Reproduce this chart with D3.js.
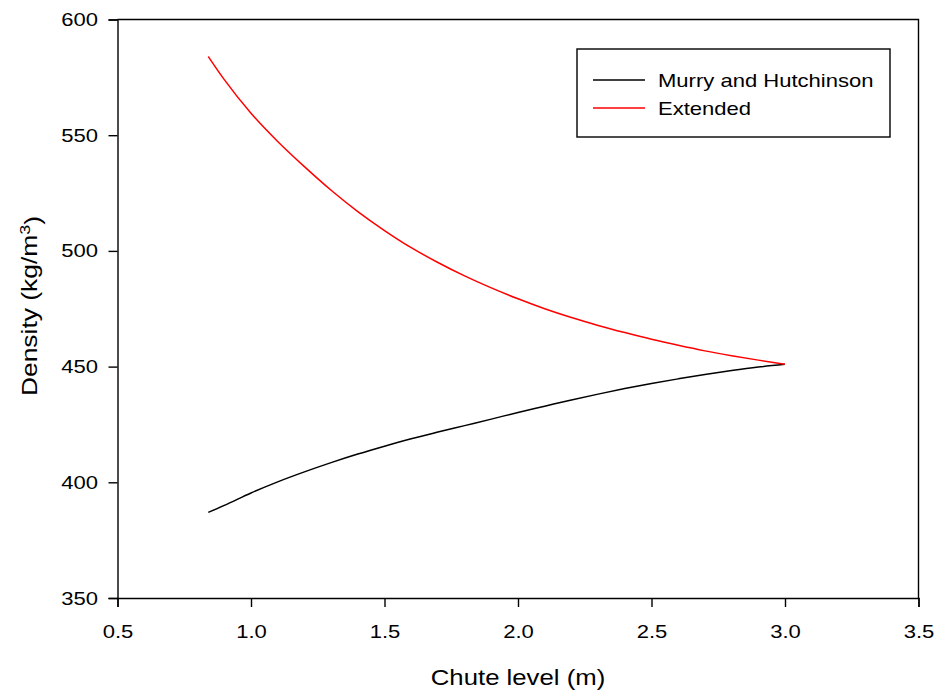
<!DOCTYPE html>
<html>
<head>
<meta charset="utf-8">
<script src="https://cdn.jsdelivr.net/npm/d3@7"></script>
<style>
body { margin: 0; background: #fff; }
text { font-family: "Liberation Sans", Arial, sans-serif; fill: #000; }
.axis path, .axis line { stroke: #000; stroke-width: 1.4; }
.axis text { font-size: 19px; }
</style>
</head>
<body>
<div id="chart"></div>
<script>
// chute level (m)
var chuteLevel = [0.84, 0.9, 1.0, 1.1, 1.2, 1.3, 1.4, 1.5, 1.6, 1.7, 1.8, 1.9,
	2.0, 2.1, 2.2, 2.3, 2.4, 2.5, 2.6, 2.7, 2.8, 2.9, 3.0];
// density (kg/m3)
var murryHutchinson = [387, 390, 395.4, 400.2, 404.5, 408.5, 412.2, 415.6, 418.8, 421.7, 424.5, 427.3,
	430.2, 432.9, 435.6, 438.1, 440.5, 442.7, 444.7, 446.6, 448.3, 449.8, 451];
var extended = [584, 574, 559.5, 547.3, 536.4, 526.2, 517, 508.8, 501.4, 495, 489.2, 484,
	479.3, 475, 471.2, 467.8, 464.7, 461.8, 459.2, 456.8, 454.7, 452.8, 451];
var xTicks = [0.5, 1.0, 1.5, 2.0, 2.5, 3.0, 3.5];
var yTicks = [350, 400, 450, 500, 550, 600];
var seriesNames = ["Murry and Hutchinson", "Extended"];
var seriesColors = ["#000000", "#ff0000"];

var stretch = 1.16; // the original font is drawn a bit wide

var margin = {top: 19.5, right: 17.5, bottom: 95, left: 117.5},
	width = 936 - margin.left - margin.right,
	height = 693 - margin.top - margin.bottom;

var x = d3.scaleLinear().domain([0.5, 3.5]).range([0, width]);
var y = d3.scaleLinear().domain([350, 600]).range([height, 0]);

var svg = d3.select("#chart").append("svg")
	.attr("width", 936)
	.attr("height", 693);

var g = svg.append("g")
	.attr("transform", "translate(" + margin.left + "," + margin.top + ")");

// frame top + right
g.append("path")
	.attr("d", "M0,0H" + width + "V" + height)
	.attr("fill", "none")
	.attr("stroke", "#000")
	.attr("stroke-width", 1.4);

g.append("g").attr("class", "axis")
	.attr("transform", "translate(0," + height + ")")
	.call(d3.axisBottom(x).tickValues(xTicks).tickFormat(d3.format(".1f"))
		.tickSizeOuter(0).tickSize(9).tickPadding(18))
	.selectAll("text").attr("transform", "scale(" + stretch + ",1)");

g.append("g").attr("class", "axis")
	.call(d3.axisLeft(y).tickValues(yTicks).tickSizeOuter(0).tickSize(9).tickPadding(7.8))
	.selectAll("text").attr("transform", "scale(" + stretch + ",1)");

var line = d3.line()
	.curve(d3.curveMonotoneX)
	.x(function(d) { return x(d[0]); })
	.y(function(d) { return y(d[1]); });

[murryHutchinson, extended].forEach(function(vals, i) {
	g.append("path")
		.datum(chuteLevel.map(function(c, j) { return [c, vals[j]]; }))
		.attr("d", line)
		.attr("fill", "none")
		.attr("stroke", seriesColors[i])
		.attr("stroke-width", 1.5);
});

// legend
var lg = svg.append("g").attr("transform", "translate(577,49)");
lg.append("rect")
	.attr("width", 313).attr("height", 88)
	.attr("fill", "#fff").attr("stroke", "#000").attr("stroke-width", 1.4);
seriesNames.forEach(function(name, i) {
	var yy = 31 + i * 28;
	lg.append("line")
		.attr("x1", 16).attr("x2", 68).attr("y1", yy).attr("y2", yy)
		.attr("stroke", seriesColors[i]).attr("stroke-width", 1.5);
	lg.append("text")
		.attr("transform", "translate(81," + yy + ") scale(" + stretch + ",1)")
		.attr("dy", "0.35em")
		.style("font-size", "19px")
		.text(name);
});

// axis titles
svg.append("text")
	.attr("transform", "translate(" + (margin.left + width / 2) + ",685) scale(1.17,1)")
	.attr("text-anchor", "middle")
	.style("font-size", "22px")
	.text("Chute level (m)");

var yt = svg.append("text")
	.attr("transform", "translate(37,306) rotate(-90) scale(1.2,1)")
	.attr("text-anchor", "middle")
	.style("font-size", "22px");
yt.append("tspan").text("Density (kg/m");
yt.append("tspan").attr("dy", "-0.45em").style("font-size", "15px").text("3");
yt.append("tspan").attr("dy", "0.45em").text(")");
</script>
</body>
</html>
